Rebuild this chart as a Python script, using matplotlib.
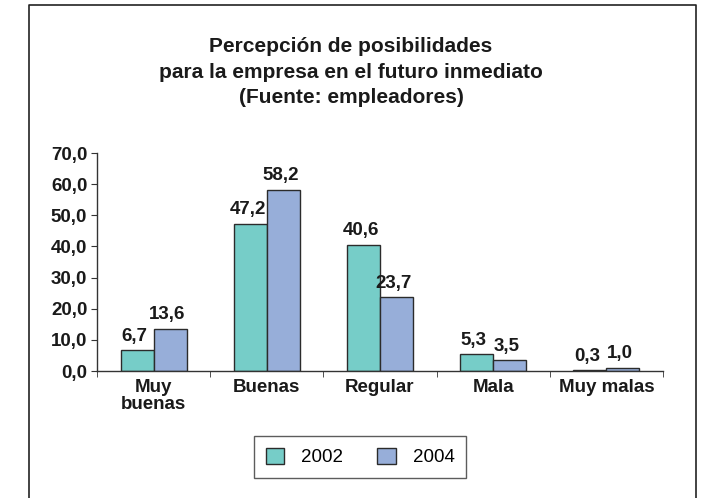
import numpy as np
import matplotlib.pyplot as plt
from matplotlib.lines import Line2D

plt.rcParams['font.family'] = ['Liberation Sans', 'DejaVu Sans']

categories = ['Muy\nbuenas', 'Buenas', 'Regular', 'Mala', 'Muy malas']
values_2002 = [6.7, 47.2, 40.6, 5.3, 0.3]
values_2004 = [13.6, 58.2, 23.7, 3.5, 1.0]
series_names = ['2002', '2004']
colors = ['#76CDC8', '#97AED9']
edge = '#2b2b2b'

fig = plt.figure(figsize=(7.02, 4.98), dpi=100)

# outer frame (left, top, right only)
fig.add_artist(Line2D([29/702, 29/702, 696/702, 696/702],
                      [0, 1 - 5/498, 1 - 5/498, 0],
                      transform=fig.transFigure, color='#222222', lw=1.2))

fig.text(0.5, 1 - 72/498,
         'Percepción de posibilidades\npara la empresa en el futuro inmediato\n(Fuente: empleadores)',
         ha='center', va='center', fontsize=15, fontweight='bold',
         color='#1a1a1a', linespacing=1.45)

ax = fig.add_axes([97/702, 1 - 371/498, (663 - 97)/702, (371 - 153)/498])

index = np.arange(len(categories))
width = 0.292

b1 = ax.bar(index - width/2, values_2002, width, color=colors[0],
            edgecolor=edge, linewidth=1.0, label=series_names[0])
b2 = ax.bar(index + width/2, values_2004, width, color=colors[1],
            edgecolor=edge, linewidth=1.0, label=series_names[1])

for bars in (b1, b2):
    for rect in bars:
        h = rect.get_height()
        ax.annotate(f'{h:.1f}'.replace('.', ','),
                    (rect.get_x() + rect.get_width()/2, h),
                    xytext=(-2, 4), textcoords='offset points',
                    ha='center', va='bottom', fontsize=13.5,
                    fontweight='bold', color='#1a1a1a')

ax.set_xlim(-0.5, len(categories) - 0.5)
ax.set_ylim(0, 70)
ax.set_yticks(np.arange(0, 71, 10))
ax.set_yticklabels([f'{v:.1f}'.replace('.', ',') for v in np.arange(0, 71, 10)],
                   fontsize=13.5, fontweight='bold', color='#1a1a1a')

ax.set_xticks(index)
ax.set_xticklabels(categories, fontsize=13.5, fontweight='bold',
                   color='#1a1a1a', linespacing=1.0, va='top')
ax.tick_params(axis='x', which='major', length=0, pad=6)
ax.set_xticks(np.arange(-0.5, len(categories)), minor=True)
ax.tick_params(axis='x', which='minor', length=4, direction='out', color='#333333')
ax.tick_params(axis='y', length=4, direction='out', color='#333333', pad=3)

for s in ('top', 'right'):
    ax.spines[s].set_visible(False)
for s in ('left', 'bottom'):
    ax.spines[s].set_color('#333333')
    ax.spines[s].set_linewidth(1.0)

leg = fig.legend(handles=[b1, b2], labels=series_names, loc='center',
                 bbox_to_anchor=(360/702, 1 - 457/498), ncol=2,
                 fontsize=13.5, frameon=True, fancybox=False,
                 edgecolor='#333333', handlelength=1.0, handleheight=1.0,
                 columnspacing=1.8, handletextpad=0.9, borderpad=0.6)
leg.get_frame().set_linewidth(1.0)

plt.savefig('out.png', dpi=100)
plt.close()
